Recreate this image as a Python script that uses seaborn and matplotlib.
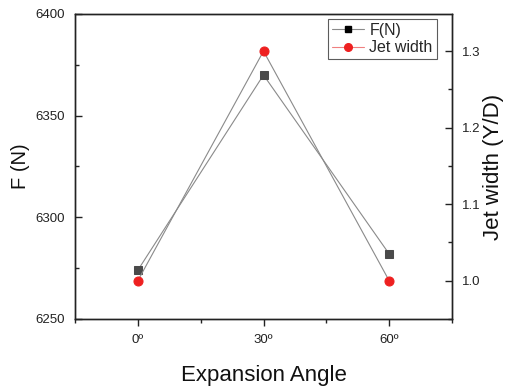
import matplotlib
matplotlib.use("Agg")
import matplotlib.pyplot as plt
import seaborn as sns
import pandas as pd
from matplotlib.lines import Line2D
from matplotlib.ticker import MultipleLocator

angles = [0, 30, 60]
angle_labels = ["0º", "30º", "60º"]
force = [6274, 6370, 6282]
jet_width = [1.0, 1.3, 1.0]

sns.set_theme(style="white")
plt.rcParams["font.family"] = ["Liberation Sans", "DejaVu Sans"]

df = pd.DataFrame({"angle": angles, "force": force, "jet": jet_width})

fig = plt.figure(figsize=(5.13, 3.88), dpi=100)
ax = fig.add_axes([75 / 513, 1 - 319 / 388, (452 - 75) / 513, (319 - 14) / 388])
ax2 = ax.twinx()

sns.lineplot(data=df, x="angle", y="force", ax=ax, color="#8a8a8a", lw=0.8,
             marker="s", markersize=6, markerfacecolor="#4a4a4a",
             markeredgecolor="#4a4a4a")
sns.lineplot(data=df, x="angle", y="jet", ax=ax2, color="#8a8a8a", lw=0.8,
             marker="o", markersize=6.5, markerfacecolor="#ee2020",
             markeredgecolor="#ee2020")

ax.set_xlim(-15, 75)
ax.set_ylim(6250, 6400)
ax2.set_ylim(0.95, 1.3485)

ax.set_xticks(angles)
ax.set_xticklabels(angle_labels)
ax.xaxis.set_minor_locator(MultipleLocator(15))
ax.set_yticks([6250, 6300, 6350, 6400])
ax.yaxis.set_minor_locator(MultipleLocator(25))
ax2.set_yticks([1.0, 1.1, 1.2, 1.3])
ax2.yaxis.set_minor_locator(MultipleLocator(0.05))

for a in (ax, ax2):
    for s in a.spines.values():
        s.set_color("#222222")
        s.set_linewidth(1.0)
# x ticks point out of the frame, y ticks point into it
ax.tick_params(axis="x", which="major", direction="out", length=5, width=1,
               colors="#222222", labelsize=9.5, bottom=True, top=False, pad=6)
ax.tick_params(axis="x", which="minor", direction="out", length=3, width=1,
               color="#222222", bottom=True, top=False)
ax.tick_params(axis="y", which="major", direction="in", length=5, width=1,
               colors="#222222", labelsize=9.5, left=True, pad=7)
ax.tick_params(axis="y", which="minor", direction="in", length=3, width=1,
               color="#222222", left=True)
ax2.tick_params(axis="y", which="major", direction="in", length=5, width=1,
                colors="#222222", labelsize=9.5, right=True, pad=7)
ax2.tick_params(axis="y", which="minor", direction="in", length=3, width=1,
                color="#222222", right=True)

ax.set_xlabel("Expansion Angle", fontsize=16, color="#111111")
ax.set_ylabel("F (N)", fontsize=14.5, color="#111111")
ax2.set_ylabel("Jet width (Y/D)", fontsize=16, color="#111111")
ax.xaxis.set_label_coords(0.5, -0.152)
ax.yaxis.set_label_coords(-0.119, 0.5)
ax2.yaxis.set_label_coords(1.082, 0.5)

handles = [
    Line2D([], [], color="#8a8a8a", lw=0.8, marker="s", markersize=5,
           markerfacecolor="black", markeredgecolor="black"),
    Line2D([], [], color="#f08080", lw=0.8, marker="o", markersize=5.5,
           markerfacecolor="#ee2020", markeredgecolor="#ee2020"),
]
leg = ax.legend(handles, ["F(N)", "Jet width"], loc="upper right",
                bbox_to_anchor=(0.968, 0.995), fontsize=11.5, frameon=True,
                fancybox=False, handlelength=2.0, handletextpad=0.35,
                borderpad=0.25, labelspacing=0.15, borderaxespad=0.2)
leg.get_frame().set_edgecolor("#333333")
leg.get_frame().set_linewidth(0.8)

fig.savefig("out.png", dpi=100)
